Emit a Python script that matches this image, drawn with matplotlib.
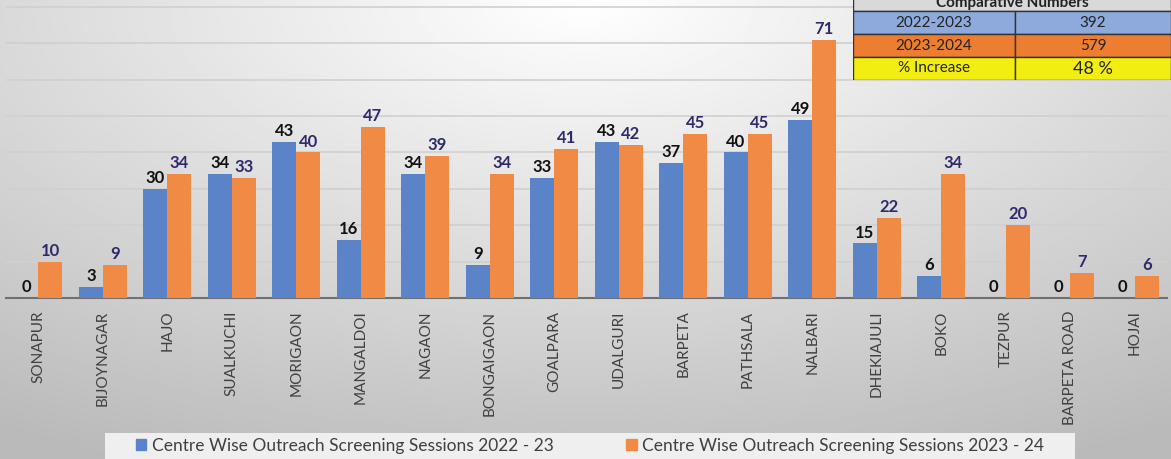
import numpy as np
import matplotlib
matplotlib.use("Agg")
import matplotlib.pyplot as plt
from matplotlib.patches import Rectangle

plt.rcParams['font.family'] = ['Lato', 'DejaVu Sans']

# data
centres = ['SONAPUR', 'BIJOYNAGAR', 'HAJO', 'SUALKUCHI', 'MORIGAON', 'MANGALDOI',
           'NAGAON', 'BONGAIGAON', 'GOALPARA', 'UDALGURI', 'BARPETA', 'PATHSALA',
           'NALBARI', 'DHEKIAJULI', 'BOKO', 'TEZPUR', 'BARPETA ROAD', 'HOJAI']
sessions_2022 = [0, 3, 30, 34, 43, 16, 34, 9, 33, 43, 37, 40, 49, 15, 6, 0, 0, 0]
sessions_2023 = [10, 9, 34, 33, 40, 47, 39, 34, 41, 42, 45, 45, 71, 22, 34, 20, 7, 6]
legend_labels = ['Centre Wise Outreach Screening Sessions 2022 - 23',
                 'Centre Wise Outreach Screening Sessions 2023 - 24']

table_title = 'Comparative Numbers'
table_rows = ['2022-2023', '2023-2024', '% Increase']
table_vals = ['392', '579', '48 %']

blue = '#5a83c8'
orange = '#f08a45'

W, H = 1171, 459
fig = plt.figure(figsize=(W / 100, H / 100), dpi=100)

# gradient background
bg = fig.add_axes([0, 0, 1, 1], zorder=-10)
yy, xx = np.mgrid[0:1:200j, 0:1:400j]
dist = np.sqrt(((xx - 0.5) * 1.1) ** 2 + (yy * 0.9) ** 2)
shade = 1.0 - 0.27 * np.clip(dist, 0, 1.0)
bg.imshow(shade, cmap='gray', vmin=0, vmax=1, aspect='auto', extent=[0, 1, 0, 1], origin='upper')
bg.set_xlim(0, 1)
bg.set_ylim(0, 1)
bg.axis('off')
# legend backdrop
bg.add_patch(Rectangle((105 / W, 0), 970 / W, 26 / H, facecolor='#efefef', edgecolor='none'))

ax = fig.add_axes([6 / W, 1 - 298 / H, 1161 / W, 298 / H])
ax.patch.set_alpha(0)
x = np.arange(len(centres))
bw = 0.37
ax.bar(x - bw / 2, sessions_2022, bw, color=blue, zorder=3)
ax.bar(x + bw / 2, sessions_2023, bw, color=orange, zorder=3)

for xi, v in zip(x, sessions_2022):
    ax.text(xi - bw / 2, v + 0.8, str(v), ha='center', va='bottom', fontsize=12,
            fontweight='bold', color='#111111', zorder=4)
for xi, v in zip(x, sessions_2023):
    ax.text(xi + bw / 2, v + 0.8, str(v), ha='center', va='bottom', fontsize=12,
            fontweight='bold', color='#2e2b6b', zorder=4)

ax.set_xlim(-0.5, len(centres) - 0.5)
ax.set_ylim(0, 81.9)
ax.set_yticks(np.arange(10, 81, 10))
ax.yaxis.grid(True, color='#d0d0d0', lw=1.2, zorder=0)
ax.tick_params(axis='y', left=False, labelleft=False)
ax.tick_params(axis='x', length=0, pad=9)
ax.set_xticks(x)
ax.set_xticklabels(centres, rotation=90, fontsize=11, color='#404040', va='top')
for s in ['top', 'right', 'left']:
    ax.spines[s].set_visible(False)
ax.spines['bottom'].set_color('#707070')
ax.spines['bottom'].set_linewidth(1.5)

# legend
handles = [Rectangle((0, 0), 1, 1, color=blue), Rectangle((0, 0), 1, 1, color=orange)]
leg = fig.legend(handles, legend_labels, loc='center', bbox_to_anchor=(590 / W, 13 / H),
                 ncol=2, frameon=False, fontsize=12.5, handlelength=0.6, handleheight=0.6,
                 handletextpad=0.3, columnspacing=4.2, borderpad=0.2)
for t in leg.get_texts():
    t.set_color('#404040')

# comparison table
tx0, ty_bot = 853, 80
row_h = 23
tax = fig.add_axes([tx0 / W, 1 - ty_bot / H, (W - tx0) / W, 4 * row_h / H])
tax.set_xlim(0, W - tx0)
tax.set_ylim(0, 4 * row_h)
tax.axis('off')
split = 1015 - tx0
fills = ['#8eaadc', '#ed7d31', '#f2ee12']
tax.add_patch(Rectangle((0, 3 * row_h), W - tx0, row_h, facecolor='#d9d9d9', edgecolor='#333333', lw=1))
tax.text((W - tx0) / 2, 3 * row_h + row_h / 2 - 3, table_title, ha='center', va='center',
         fontsize=11, fontweight='bold', color='#222222')
for i, (lab, val) in enumerate(zip(table_rows, table_vals)):
    y0 = (2 - i) * row_h
    tax.add_patch(Rectangle((0, y0), split, row_h, facecolor=fills[i], edgecolor='#333333', lw=1))
    tax.add_patch(Rectangle((split, y0), W - tx0 - split, row_h, facecolor=fills[i], edgecolor='#333333', lw=1))
    tax.text(split / 2, y0 + row_h / 2, lab, ha='center', va='center', fontsize=11, color='#222222')
    tax.text(split + (W - tx0 - split) / 2, y0 + row_h / 2, val, ha='center', va='center',
             fontsize=13 if i == 2 else 11, color='#222222')

fig.savefig('out.png', dpi=100)
